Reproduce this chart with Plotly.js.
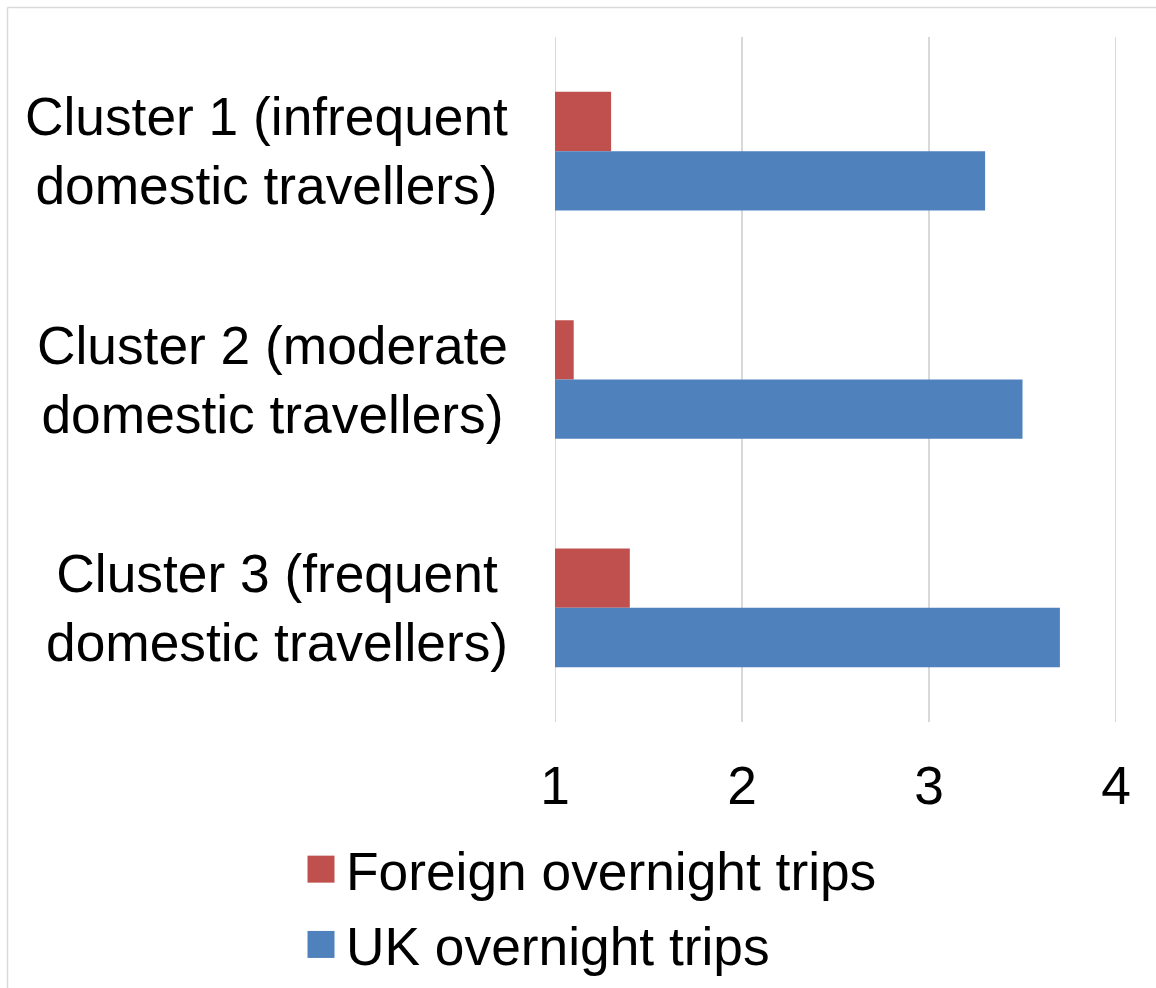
<!DOCTYPE html>
<html>
<head>
<meta charset="utf-8">
<script src="https://cdn.plot.ly/plotly-3.0.1.min.js"></script>
<style>html,body{margin:0;padding:0;background:#fff;}</style>
</head>
<body>
<div id="chart" style="width:1156px;height:988px;"></div>
<script>
const categories = [
  'Cluster 1 (infrequent<br>domestic travellers)',
  'Cluster 2 (moderate<br>domestic travellers)',
  'Cluster 3 (frequent<br>domestic travellers)'
];
const seriesNames = ['Foreign overnight trips', 'UK overnight trips'];
const foreignTrips = [1.3, 1.1, 1.4];
const ukTrips = [3.3, 3.5, 3.7];
const xTickVals = [1, 2, 3, 4];

const W = 1156, H = 988;
const M = {l: 555, r: 40, t: 37, b: 266, autoexpand: false};
const pw = W - M.l - M.r, ph = H - M.t - M.b;
const px2x = p => (p - M.l) / pw;
const px2y = p => (H - M.b - p) / ph;
const FONT = '"Liberation Sans", Arial, sans-serif';
const FS = 53.3;

const traces = [
  {type: 'bar', orientation: 'h', name: seriesNames[0], y: categories, x: foreignTrips,
   marker: {color: '#C0504D'}, legendgroup: 'a', hoverinfo: 'x'},
  {type: 'bar', orientation: 'h', name: seriesNames[1], y: categories, x: ukTrips,
   marker: {color: '#4F81BD'}, legendgroup: 'b', hoverinfo: 'x'}
];

const annotations = categories.map(c => ({
  xref: 'paper', yref: 'y', x: px2x(510), y: c, xanchor: 'right', yanchor: 'middle',
  yshift: 0,
  text: c, align: 'center', showarrow: false,
  font: {family: FONT, size: FS, color: '#000'}
}));

const gridShapes = xTickVals.map(v => ({
  type: 'line', xref: 'x', yref: 'paper', x0: v, x1: v, y0: 0, y1: 1, layer: 'below',
  line: {color: '#d9d9d9', width: 2}
}));

const layout = {
  width: W, height: H,
  margin: M,
  paper_bgcolor: '#fff', plot_bgcolor: '#fff',
  font: {family: FONT, color: '#000'},
  barmode: 'group', bargap: 0.48, bargroupgap: 0,
  showlegend: true,
  legend: {
    x: px2x(306), y: px2y(828), xanchor: 'left', yanchor: 'top',
    orientation: 'v', traceorder: 'grouped', tracegroupgap: 3,
    font: {family: FONT, size: FS, color: '#000'},
    bgcolor: 'rgba(0,0,0,0)', borderwidth: 0
  },
  xaxis: {
    range: [1, 4], tickvals: xTickVals, ticktext: xTickVals.map(String),
    showgrid: false,
    zeroline: false, showline: false, ticks: '',
    ticklabelstandoff: 28,
    tickfont: {family: FONT, size: FS, color: '#000'}
  },
  yaxis: {
    type: 'category', autorange: 'reversed',
    showgrid: false, zeroline: false, showline: false, showticklabels: false, ticks: ''
  },
  annotations: annotations,
  shapes: gridShapes.concat([
    {type: 'line', xref: 'paper', yref: 'paper', x0: px2x(7.5), x1: px2x(1170), y0: px2y(7.5), y1: px2y(7.5),
     line: {color: '#d9d9d9', width: 1.5}},
    {type: 'line', xref: 'paper', yref: 'paper', x0: px2x(7.5), x1: px2x(7.5), y0: px2y(7.5), y1: px2y(1000),
     line: {color: '#d9d9d9', width: 1.5}}
  ])
};

Plotly.newPlot('chart', traces, layout, {staticPlot: true, displayModeBar: false}).then(() => {
  document.querySelectorAll('.legend .legendpoints path').forEach(p => {
    p.setAttribute('d', 'M8.5,13.5H-18.5V-13.5H8.5Z');
    p.style.strokeWidth = '0';
  });
});
</script>
</body>
</html>
